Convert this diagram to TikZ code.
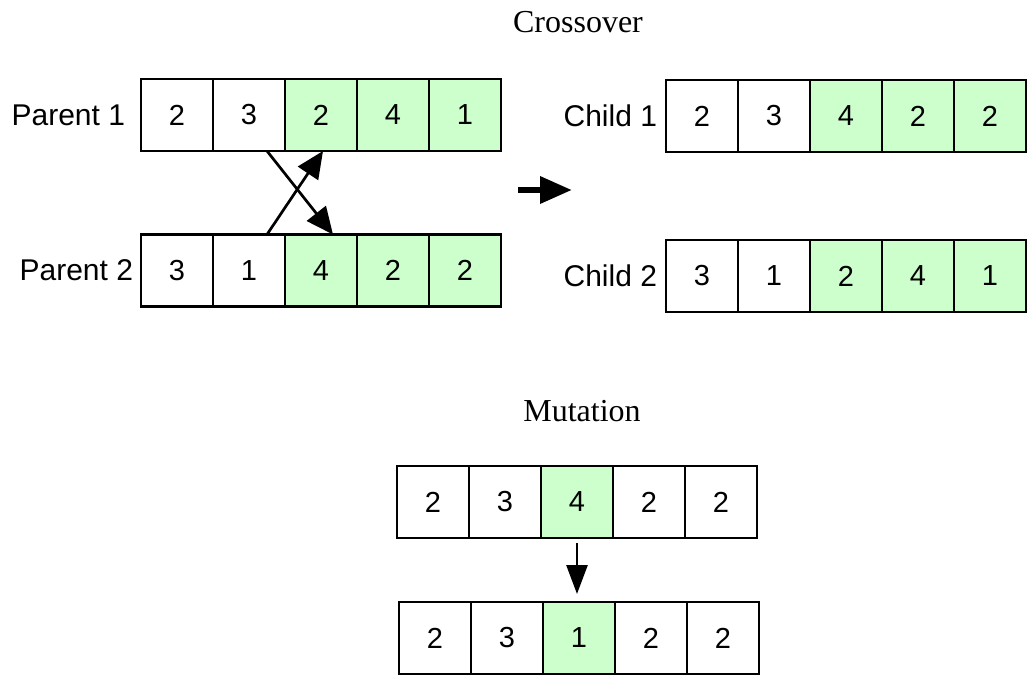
\documentclass[tikz,border=0pt]{standalone}
\usepackage{fontspec}
\setmainfont{Liberation Sans}
\newfontfamily\titlefont{Liberation Serif}
\usepackage{tikz}
\usetikzlibrary{arrows.meta, positioning}
\definecolor{genegreen}{RGB}{204,255,204}
\tikzset{
    cell/.style={draw, rectangle, minimum width=72pt, minimum height=72pt, inner sep=0pt, outer sep=0pt, line width=2.7pt, fill=white, font=\fontsize{29}{34}\selectfont},
    gene/.style={cell, fill=genegreen},
    lbl/.style={inner sep=0pt, outer sep=0pt, font=\fontsize{30}{36}\selectfont},
    title/.style={anchor=base, font=\titlefont\fontsize{32}{38}\selectfont},
    swaparrow/.style={line width=2.7pt, -{Triangle[length=27pt, width=24pt]}},
    bigarrow/.style={line width=6.5pt, -{Triangle[length=32pt, width=26pt]}},
    mutarrow/.style={line width=2.7pt, -{Triangle[length=29pt, width=21pt]}}
}
\begin{document}
\begin{tikzpicture}[x=1pt, y=-1pt, node distance=0pt]
    \useasboundingbox (0,0) rectangle (1029,677);

    % Crossover
    \node (tcross) [title] at (578,33) {Crossover};

    \node (p1a) [cell] at (177,115) {2};
    \node (p1b) [cell, right=of p1a] {3};
    \node (p1c) [gene, right=of p1b] {2};
    \node (p1d) [gene, right=of p1c] {4};
    \node (p1e) [gene, right=of p1d] {1};
    \node (lp1) [lbl, left=16pt of p1a] {Parent 1};

    \node (p2a) [cell] at (177,270.5) {3};
    \node (p2b) [cell, right=of p2a] {1};
    \node (p2c) [gene, right=of p2b] {4};
    \node (p2d) [gene, right=of p2c] {2};
    \node (p2e) [gene, right=of p2d] {2};
    \node (lp2) [lbl, left=8pt of p2a] {Parent 2};

    \node (c1a) [cell] at (702,116) {2};
    \node (c1b) [cell, right=of c1a] {3};
    \node (c1c) [gene, right=of c1b] {4};
    \node (c1d) [gene, right=of c1c] {2};
    \node (c1e) [gene, right=of c1d] {2};
    \node (lc1) [lbl, left=9pt of c1a] {Child 1};

    \node (c2a) [cell] at (702,276) {3};
    \node (c2b) [cell, right=of c2a] {1};
    \node (c2c) [gene, right=of c2b] {2};
    \node (c2d) [gene, right=of c2c] {4};
    \node (c2e) [gene, right=of c2d] {1};
    \node (lc2) [lbl, left=9pt of c2a] {Child 2};

    % swapped tails
    \draw [swaparrow] ([xshift=18pt]p1b.south) -- ([xshift=12pt]p2c.north);
    \draw [swaparrow] ([xshift=18pt]p2b.north) -- ([xshift=2pt]p1c.south);

    \coordinate (mids) at (518,190);
    \coordinate (mide) at (572,190);
    \draw [bigarrow] (mids) -- (mide);

    % Mutation
    \node (tmut) [title] at (582,421) {Mutation};

    \node (mt1) [cell] at (433,502) {2};
    \node (mt2) [cell, right=of mt1] {3};
    \node (mt3) [gene, right=of mt2] {4};
    \node (mt4) [cell, right=of mt3] {2};
    \node (mt5) [cell, right=of mt4] {2};

    \node (mb1) [cell] at (435,638) {2};
    \node (mb2) [cell, right=of mb1] {3};
    \node (mb3) [gene, right=of mb2] {1};
    \node (mb4) [cell, right=of mb3] {2};
    \node (mb5) [cell, right=of mb4] {2};

    \draw [mutarrow, shorten <=5pt, shorten >=8pt] (mt3.south) -- (mt3.south |- mb3.north);

\end{tikzpicture}
\end{document}
